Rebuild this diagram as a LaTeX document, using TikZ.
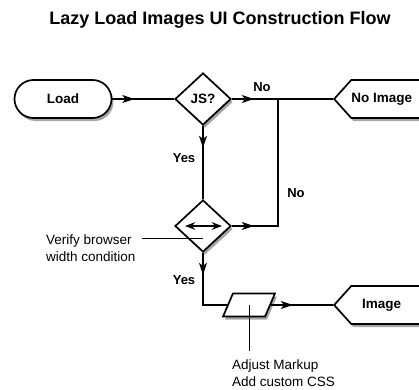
\documentclass[tikz,border=0pt]{standalone}
\usepackage{fontspec}
\setmainfont{Liberation Sans}
\usetikzlibrary{arrows.meta,shapes.geometric,shapes.symbols,shadows,decorations.markings,positioning}

\tikzset{
	box/.style={draw,line width=1.7pt,fill=white,font=\bfseries\fontsize{13.5}{15}\selectfont,
		drop shadow={shadow xshift=2pt,shadow yshift=-3pt,fill=black,opacity=0.35}},
	terminal/.style={box,rounded corners=19pt,minimum width=97pt,minimum height=38pt},
	decision/.style={box,diamond,inner sep=0pt,minimum width=56pt,minimum height=52pt},
	% text pulled left into the pointer, the flat end runs off the page
	display/.style={box,signal,signal to=west,signal pointer angle=96,inner sep=0pt,
		minimum width=100pt,minimum height=38pt,anchor=west,
		execute at begin node={\hspace*{-22pt}}},
	io/.style={box,xslant=0.43,transform shape,inner sep=0pt,
		minimum width=42pt,minimum height=23pt},
	flow/.style={line width=1.4pt,postaction={decorate},
		decoration={markings,mark=at position 22pt with {\arrow{Stealth[length=12pt,width=8pt,inset=3pt]}}}},
	note/.style={line width=1pt},
	lbl/.style={font=\bfseries\fontsize{13}{15}\selectfont},
	notetext/.style={font=\fontsize{13.5}{17}\selectfont,align=left,anchor=west}
}

\begin{document}
\begin{tikzpicture}[x=1pt,y=1pt]
	\useasboundingbox[fill=white] (0,0) rectangle (419,389);
	
	\node[font=\bfseries\fontsize{18}{20}\selectfont] (title) at (220,369) {Lazy Load Images UI Construction Flow};
	
	% shapes
	\node[terminal] (load) at (63,290) {Load};
	\node[decision] (js) at (203,290) {JS?};
	\node[display] (noimg) at (333,290) {No Image};
	\node[decision] (wid) at (203,163) {};
	\node[io] (adj) at (249,84) {};
	\node[display] (img) at (333,84) {Image};
	\coordinate (jn) at (278,290);
	
	% double arrow inside the width check
	\draw[Stealth-Stealth,line width=1.6pt] ([xshift=-18pt]wid.center) -- ([xshift=19pt]wid.center);
	
	% connectors
	\draw[flow] (load.east) -- (js.west);
	\draw[flow] (js.east) -- (noimg.west);
	\draw[flow] (wid.east) -| (jn);
	\draw[flow] (js.south) -- (wid.north);
	\draw[flow] (wid.south) |- (adj.west);
	\draw[flow] (adj.east) -- (img.west);
	
	\node[lbl] at (262,302) {No};
	\node[lbl] at (296,196) {No};
	\node[lbl] at (184,231) {Yes};
	\node[lbl] at (184,109) {Yes};
	
	% annotations
	\node[notetext] (vertxt) at (42.5,141) {Verify browser\\width condition};
	\draw[note] ([xshift=3pt,yshift=10pt]vertxt.east) -- ([yshift=-12pt]wid.center);
	
	\node[notetext] (adjtxt) at (228.5,15.5) {Adjust Markup\\Add custom CSS};
	\draw[note] (adj.center) -- ([yshift=6pt]adjtxt.north -| adj.center);
\end{tikzpicture}
\end{document}
